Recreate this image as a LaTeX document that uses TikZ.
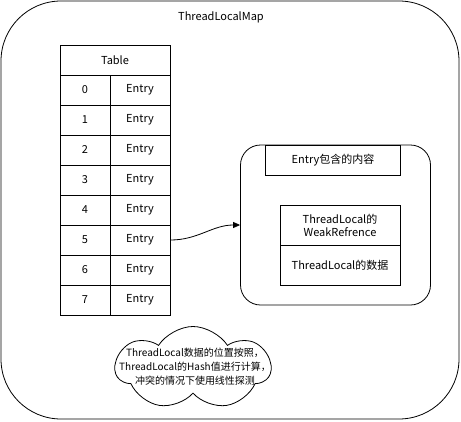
\documentclass[tikz,border=0pt]{standalone}
\usepackage{fontspec}
\setmainfont{Noto Sans CJK SC}
\usepackage{tikz}
\usetikzlibrary{arrows.meta,positioning,shapes.symbols}

\begin{document}
\begin{tikzpicture}[x=1pt, y=-1pt, line width=0.8pt, font=\fontsize{11}{13}\selectfont,
  cell/.style={draw, minimum height=30pt, inner sep=0pt}]
\useasboundingbox (0,0) rectangle (461,421);
\node[draw, rounded corners=60pt, minimum width=458pt, minimum height=418pt] (map) at (230,210) {};
\node (title) at (221,17) {ThreadLocalMap};
\node[cell, minimum width=110pt] (tbl) at (115,60) {Table};
\foreach \i in {0,...,7} {
  \node[cell, minimum width=50pt] (k\i) at (85,90+30*\i) {\i};
  \node[cell, minimum width=60pt] (e\i) at (140,90+30*\i) {Entry};
}
\node[draw, rounded corners=20pt, minimum width=190pt, minimum height=160pt] (ent) at (335.5,225) {};
\node[cell, minimum width=135pt] (cont) at (333,160) {Entry包含的内容};
\node[cell, minimum width=120pt, minimum height=40pt, align=center] (weak) at (340,225) {ThreadLocal的\\WeakRefrence};
\node[cell, minimum width=120pt, minimum height=40pt, below=0pt of weak] (data) {ThreadLocal的数据};
\draw[-{Triangle[length=7pt,width=6pt]}] (e5.east) to[out=0, in=180] (ent.west);
\node[cloud, draw, cloud puffs=7, cloud puff arc=115, aspect=1.9, minimum width=155pt, minimum height=83pt, inner sep=0pt] (cloud) at (193,368) {};
\node[font=\fontsize{10}{14}\selectfont, align=center] (note) at (195,367) {ThreadLocal数据的位置按照，\\ThreadLocal的Hash值进行计算，\\冲突的情况下使用线性探测};
\end{tikzpicture}
\end{document}
